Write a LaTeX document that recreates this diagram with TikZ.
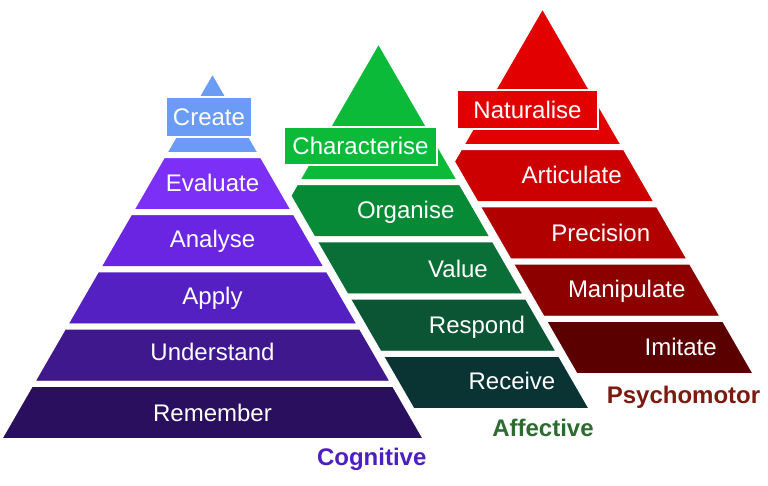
\documentclass[tikz,border=0pt]{standalone}
\usepackage{fontspec}
\setmainfont{Liberation Sans}
\definecolor{cCreate}{HTML}{6B9CF5}
\definecolor{cEval}{HTML}{7B2FF7}
\definecolor{cAnal}{HTML}{6A25E3}
\definecolor{cApply}{HTML}{5520C2}
\definecolor{cUnder}{HTML}{3E188C}
\definecolor{cRemem}{HTML}{2A0F5E}
\definecolor{gChar}{HTML}{0CBA3A}
\definecolor{gOrg}{HTML}{078A35}
\definecolor{gVal}{HTML}{0A6E37}
\definecolor{gResp}{HTML}{0B5535}
\definecolor{gRec}{HTML}{0A3434}
\definecolor{rNat}{HTML}{E30000}
\definecolor{rArt}{HTML}{CC0000}
\definecolor{rPrec}{HTML}{B00000}
\definecolor{rMan}{HTML}{8C0000}
\definecolor{rImit}{HTML}{5A0000}
\definecolor{tCog}{HTML}{4B1FC0}
\definecolor{tAff}{HTML}{2E6B30}
\definecolor{tPsy}{HTML}{7A1A10}
% band: centre x, apex y, top y, bottom y, colour
\newcommand\pyrband[5]{\draw[bandedge,fill=#5]
  ({#1-(#3-#2)*0.57735},#3) -- ({#1+(#3-#2)*0.57735},#3) --
  ({#1+(#4-#2)*0.57735},#4) -- ({#1-(#4-#2)*0.57735},#4) -- cycle;}
% white halo round a whole pyramid: centre x, apex y, bottom y
\newcommand\pyrhalo[3]{\draw[halo]
  (#1,#2) -- ({#1+(#3-#2)*0.57735},#3) -- ({#1-(#3-#2)*0.57735},#3) -- cycle;}
\begin{document}
\begin{tikzpicture}[x=1pt,y=-1pt,
  bandedge/.style={draw=white,line width=6pt,line join=round},
  halo/.style={draw=white,fill=white,line width=10pt,line join=round},
  bandtxt/.style={text=white,font=\fontsize{24}{28}\selectfont,inner sep=0pt,
    text height=17pt,text depth=0pt,anchor=center},
  labelbox/.style={bandtxt,draw=white,line width=1.4pt},
  title/.style={font=\fontsize{24}{28}\selectfont\bfseries,inner sep=0pt,
    text height=17pt,text depth=0pt,anchor=center}]
\useasboundingbox[fill=white] (0,0) rectangle (768,485);
% ---------- Psychomotor (back) ----------
\pyrband{542.5}{4}{4}{147.2}{rNat}
\pyrband{542.5}{4}{147.2}{204.4}{rArt}
\pyrband{542.5}{4}{204.4}{261.6}{rPrec}
\pyrband{542.5}{4}{261.6}{318.8}{rMan}
\pyrband{542.5}{4}{318.8}{376}{rImit}
\node[labelbox,fill=rNat,minimum width=141pt,minimum height=39pt] (nat) at (527.5,109.5) {Naturalise};
\node[bandtxt] (art) at (571.7,174.5) {Articulate};
\node[bandtxt] (prec) at (600.8,232.5) {Precision};
\node[bandtxt] (man) at (626.7,289) {Manipulate};
\node[bandtxt] (imit) at (680.7,346.5) {Imitate};
% ---------- Affective (middle) ----------
\pyrhalo{378.5}{39}{411}
\pyrband{378.5}{39}{39}{182.2}{gChar}
\pyrband{378.5}{39}{182.2}{239.4}{gOrg}
\pyrband{378.5}{39}{239.4}{296.6}{gVal}
\pyrband{378.5}{39}{296.6}{353.8}{gResp}
\pyrband{378.5}{39}{353.8}{411}{gRec}
\node[labelbox,fill=gChar,minimum width=153pt,minimum height=38pt] (char) at (360.5,146) {Characterise};
\node[bandtxt] (org) at (405.7,210) {Organise};
\node[bandtxt] (val) at (458,269) {Value};
\node[bandtxt] (resp) at (477,324.5) {Respond};
\node[bandtxt] (rec) at (512,381) {Receive};
% ---------- Cognitive (front) ----------
\pyrhalo{212.5}{69}{441}
\pyrband{212.5}{69}{69}{155}{cCreate}
\pyrband{212.5}{69}{155}{212.2}{cEval}
\pyrband{212.5}{69}{212.2}{269.4}{cAnal}
\pyrband{212.5}{69}{269.4}{326.6}{cApply}
\pyrband{212.5}{69}{326.6}{383.8}{cUnder}
\pyrband{212.5}{69}{383.8}{441}{cRemem}
\node[labelbox,fill=cCreate,minimum width=86pt,minimum height=40pt] (create) at (209,117) {Create};
\node[bandtxt] (eval) at (212.5,182.7) {Evaluate};
\node[bandtxt] (anal) at (212.5,239) {Analyse};
\node[bandtxt] (apply) at (212.5,295.7) {Apply};
\node[bandtxt] (under) at (212.5,352) {Understand};
\node[bandtxt] (remem) at (212.5,413) {Remember};
% ---------- titles ----------
\node[title,text=tCog] (cog) at (371.7,456.7) {Cognitive};
\node[title,text=tAff] (aff) at (543,428) {Affective};
\node[title,text=tPsy] (psy) at (683.5,395) {Psychomotor};
\end{tikzpicture}
\end{document}
